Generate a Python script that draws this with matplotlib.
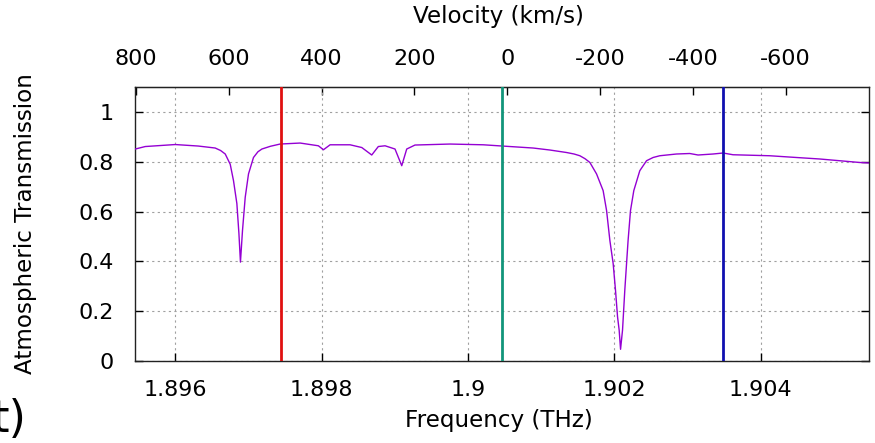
import numpy as np
import matplotlib
matplotlib.use("Agg")
import matplotlib.pyplot as plt

# Atmospheric transmission curve (frequency THz, transmission)
freq = [1.895454, 1.895590, 1.896000, 1.896314, 1.896546, 1.896620, 1.896683,
        1.896751, 1.896796, 1.896842, 1.896870, 1.896891, 1.896919, 1.896956,
        1.897001, 1.897069, 1.897130, 1.897184, 1.897300, 1.897433, 1.897707,
        1.897956, 1.898025, 1.898116, 1.898389, 1.898549, 1.898685, 1.898775,
        1.898867, 1.899003, 1.899095, 1.899163, 1.899276, 1.899754, 1.900209,
        1.900468, 1.900891, 1.901119, 1.901347, 1.901450, 1.901529, 1.901600,
        1.901666, 1.901757, 1.901847, 1.901894, 1.901939, 1.901984, 1.902016,
        1.902044, 1.902066, 1.902085, 1.902112, 1.902143, 1.902167, 1.902188,
        1.902221, 1.902266, 1.902348, 1.902440, 1.902530, 1.902621, 1.902849,
        1.903031, 1.903144, 1.903349, 1.903486, 1.903622, 1.904123, 1.904488,
        1.904806, 1.905079, 1.905352, 1.905475]
trans = [0.851, 0.861, 0.869, 0.863, 0.855, 0.845, 0.831,
         0.790, 0.724, 0.632, 0.512, 0.397, 0.524, 0.657,
         0.751, 0.817, 0.840, 0.851, 0.862, 0.871, 0.875,
         0.864, 0.848, 0.868, 0.868, 0.857, 0.827, 0.861,
         0.864, 0.851, 0.784, 0.851, 0.867, 0.871, 0.868,
         0.863, 0.855, 0.847, 0.837, 0.831, 0.824, 0.812,
         0.797, 0.751, 0.684, 0.604, 0.484, 0.391, 0.284,
         0.177, 0.124, 0.047, 0.124, 0.284, 0.391, 0.484,
         0.604, 0.684, 0.764, 0.804, 0.817, 0.824, 0.831,
         0.833, 0.827, 0.831, 0.835, 0.828, 0.824, 0.817,
         0.811, 0.804, 0.797, 0.795]

# Marker frequencies (THz) and their colours
line_freqs = [1.89745, 1.90047, 1.90348]
line_colors = ["#e01010", "#12957a", "#1010b0"]

x_ticks = [1.896, 1.898, 1.900, 1.902, 1.904]
x_tick_labels = ["1.896", "1.898", "1.9", "1.902", "1.904"]
y_ticks = [0, 0.2, 0.4, 0.6, 0.8, 1.0]
y_tick_labels = ["0", "0.2", "0.4", "0.6", "0.8", "1"]
v_ticks = [800, 600, 400, 200, 0, -200, -400, -600]

C_KMS = 299792.458
F0 = 1.9005369  # THz, [CII] rest frequency


def f2v(f):
    return C_KMS * (1.0 - np.asarray(f) / F0)


def v2f(v):
    return F0 * (1.0 - np.asarray(v) / C_KMS)


W, H = 875, 443
fig = plt.figure(figsize=(W / 100, H / 100), dpi=100)
ax = fig.add_axes([135 / W, 1 - 361 / H, (869 - 135) / W, (361 - 87) / H])

ax.set_xlim(1.89545, 1.90548)
ax.set_ylim(0, 1.1)

ax.plot(freq, trans, color="#9400d3", lw=1.0, zorder=3)
for f, c in zip(line_freqs, line_colors):
    ax.axvline(f, color=c, lw=2.0, zorder=4)

ax.set_xticks(x_ticks)
ax.set_xticklabels(x_tick_labels)
ax.set_yticks(y_ticks)
ax.set_yticklabels(y_tick_labels)
ax.grid(True, color="#a0a0a0", linestyle=(0, (2, 3)), lw=0.8)
ax.tick_params(direction="in", length=6, width=1, labelsize=16,
               colors="black", right=True, top=False)
ax.tick_params(axis="y", pad=15)
ax.tick_params(axis="x", pad=14)
for s in ax.spines.values():
    s.set_linewidth(1.0)
    s.set_color("#222222")

secax = ax.secondary_xaxis("top", functions=(f2v, v2f))
secax.set_xticks(v_ticks)
secax.set_xticklabels([str(v) for v in v_ticks])
secax.tick_params(direction="in", length=6, width=1, labelsize=16, pad=13)

fig.text(498 / W, 1 - 17 / H, "Velocity (km/s)", ha="center", va="center", fontsize=16.6)
fig.text(499 / W, 1 - 421 / H, "Frequency (THz)", ha="center", va="center", fontsize=16.6)
fig.text(26 / W, 1 - 224 / H, "Atmospheric Transmission", ha="center", va="center",
         rotation=90, fontsize=16.6)
fig.text(27 / W, 1 - 420 / H, "t)", ha="right", va="center", fontsize=32)

fig.savefig("out.png", dpi=100)
